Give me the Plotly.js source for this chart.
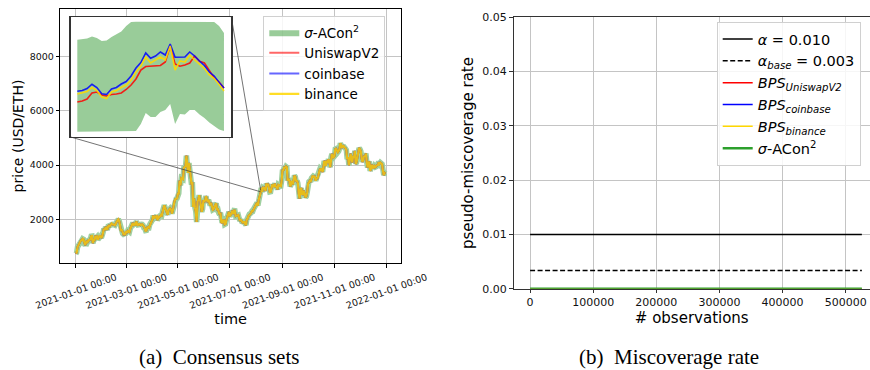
<!DOCTYPE html>
<html><head><meta charset="utf-8">
<script src="https://cdn.plot.ly/plotly-3.0.1.min.js"></script>
<style>html,body{margin:0;padding:0;background:#fff;} #chart{width:870px;height:370px;}</style>
</head><body><div id="chart"></div>
<script>
// ---------- data ----------
const priceStart = '2021-01-01';            // daily series start
const ethPrice = [
 730,775,979,1041,1100,1208,1225,1224,1281,1262,1090,1044,1130,1218,1171,1233,1230,1257,1377,1382,1121,1236,1233,1392,1324,1357,1253,1332,1382,1376,1314,
 1369,1515,1660,1594,1718,1677,1614,1746,1768,1744,1783,1843,1813,1808,1779,1781,1848,1937,1960,2000,1935,1781,1570,1626,1475,1446,1459,1416,
 1564,1492,1575,1541,1533,1654,1723,1834,1868,1799,1826,1772,1924,1854,1791,1806,1823,1782,1817,1812,1784,1680,1669,1582,1588,1699,1716,1691,1819,1846,1919,
 1977,2143,2028,2093,2107,2118,1971,2088,2072,2135,2158,2139,2299,2435,2519,2431,2344,2237,2166,2330,2364,2403,2363,2211,2317,2534,2663,2746,2757,2773,
 2945,2952,3431,3253,3522,3490,3484,3903,3928,3952,4350,4000,3715,4079,3640,3586,3282,3374,2460,2772,2430,2296,1900,2643,2706,2888,2736,2419,2279,2386,2707,
 2634,2706,2855,2689,2630,2715,2590,2517,2609,2471,2353,2372,2508,2537,2591,2369,2373,2231,2178,2245,1889,1875,1970,1990,1812,1829,1978,2083,2166,2276,
 2109,2150,2226,2322,2197,2322,2317,2117,2147,2139,2155,2032,1940,1995,1917,1880,1897,1895,1820,1786,1995,2025,2124,2188,2190,2232,2300,2300,2381,2462,2540,
 2557,2609,2507,2725,2827,2950,3158,3013,3163,3141,3164,3049,3322,3265,3310,3148,3011,3018,3181,3288,3224,3242,3320,3173,3228,3100,3270,3244,3225,3227,3433,
 3834,3790,3940,3887,3952,3927,3430,3497,3427,3212,3270,3410,3286,3429,3615,3571,3398,3432,3329,2958,2764,3077,3155,2931,2925,3062,2934,2806,2850,3001,
 3307,3391,3418,3380,3518,3580,3587,3563,3575,3426,3545,3492,3606,3788,3865,3830,3848,3748,3877,4155,4057,3971,4169,4087,4217,4131,3923,4287,4415,4324,4288,
 4324,4589,4605,4537,4477,4518,4612,4807,4732,4636,4731,4668,4649,4626,4557,4216,4288,3995,4303,4422,4277,4090,4340,4271,4524,4045,4098,4294,4445,4631,
 4587,4512,4229,4119,4198,4346,4310,4430,4112,3908,4081,4131,3784,3863,4018,3962,3877,3961,3924,3939,4020,3978,4109,4048,4093,4067,4038,3799,3628,3713,3683
];
const dateTickVals = ['2021-01-01','2021-03-01','2021-05-01','2021-07-01','2021-09-01','2021-11-01','2022-01-01'];
const dateTickText = ['2021-01-01 00:00','2021-03-01 00:00','2021-05-01 00:00','2021-07-01 00:00','2021-09-01 00:00','2021-11-01 00:00','2022-01-01 00:00'];
const priceTicks = [2000, 4000, 6000, 8000];

// inset (zoomed window starting at insetStart, x in minutes)
const insetStart = '2021-08-06 07:00';
const insetMinutes = [0,2,4,6,8,10,12,14,16,18,20,22,24,26,28,30,32,34,36,38,40,42,44,46,48,50,52,54,56,58,60];
const insetUniswap = [3029.2,3029.6,3030.4,3032.8,3033.2,3032.0,3031.6,3032.2,3032.4,3032.8,3034.2,3036.0,3038.4,3042.0,3043.4,3043.6,3043.6,3043.8,3045.2,3051.6,3044.4,3043.5,3044.0,3044.8,3047.6,3045.5,3044.8,3042.0,3038.8,3037.2,3034.8];
const insetCoinbase = [3033.5,3033.8,3034.6,3036.3,3035.0,3032.5,3032.2,3034.4,3035.0,3036.4,3037.4,3039.6,3042.8,3045.0,3048.8,3046.7,3047.6,3049.2,3048.0,3052.4,3047.1,3047.2,3047.2,3049.2,3047.6,3045.6,3043.8,3041.2,3039.6,3037.0,3034.8];
const insetBinance = [3032.4,3032.8,3033.4,3035.0,3033.8,3031.2,3030.6,3033.2,3033.8,3035.0,3036.0,3038.0,3041.2,3043.6,3047.2,3044.8,3046.0,3047.2,3046.0,3051.6,3042.0,3045.6,3045.2,3048.0,3046.0,3044.4,3042.6,3040.0,3038.6,3036.2,3033.6];
const insetBandHigh = [3054.1,3054.4,3054.6,3055.4,3054.8,3053.6,3053.8,3055.2,3056.4,3057.4,3059.6,3061.2,3061.3,3061.3,3061.3,3061.3,3061.3,3061.3,3061.3,3061.3,3061.3,3061.3,3061.3,3061.3,3061.3,3061.3,3061.3,3061.3,3061.2,3059.6,3056.8];
const insetBandLow = [3017.3,3017.3,3017.3,3017.3,3017.3,3017.3,3017.3,3017.3,3017.3,3017.3,3017.3,3017.3,3017.6,3020.4,3024.8,3023.2,3023.2,3025.2,3026.0,3028.4,3020.4,3024.4,3024.2,3026.0,3026.0,3024.2,3022.8,3021.0,3019.6,3018.2,3017.6];

// miscoverage panel
const obsX = [0, 525600];
const alphaLevel = [0.010, 0.010];
const alphaBase = [0.00333, 0.00333];
const bpsUniswap = [0, 0];
const bpsCoinbase = [0, 0];
const bpsBinance = [0, 0];
const aconRate = [0, 0];

// ---------- layout geometry ----------
const W = 870, H = 370;
const mainXRange = ['2020-12-13 18:00', '2022-01-18 06:00'];
const mainYRange = [388, 9760];
const mainXDom = [60.3/W, 401/W];
const mainYDom = [1-263/H, 1-9/H];
const insetXRange = [-2.7, 63.0];
const insetYRange = [3015.2, 3063.2];
const insetXDom = [70.7/W, 231.3/W];
const insetYDom = [1-137/H, 1-17/H];

const FONT = 'DejaVu Sans';
const ms = s => Date.parse(s.replace(' ', 'T') + ':00Z');
function toPaperX(dateMs) {
  const a = ms(mainXRange[0]), b = ms(mainXRange[1]);
  return mainXDom[0] + (dateMs - a) / (b - a) * (mainXDom[1] - mainXDom[0]);
}
function toPaperY(v) {
  return mainYDom[0] + (v - mainYRange[0]) / (mainYRange[1] - mainYRange[0]) * (mainYDom[1] - mainYDom[0]);
}
const zoomX0 = toPaperX(ms(insetStart) + insetXRange[0]*60000);
const zoomX1 = toPaperX(ms(insetStart) + insetXRange[1]*60000);
const zoomY0 = toPaperY(insetYRange[0]);
const zoomY1 = toPaperY(insetYRange[1]);

const DAY = 86400000;
const traces = [
  // inset band (its legend entry is the panel-(a) band legend)
  {x: insetMinutes, y: insetBandLow, xaxis: 'x3', yaxis: 'y3', mode: 'lines', line: {width: 0, color: 'rgba(0,128,0,0)'}, showlegend: false, hoverinfo: 'skip'},
  {x: insetMinutes, y: insetBandHigh, xaxis: 'x3', yaxis: 'y3', mode: 'lines', fill: 'tonexty', fillcolor: 'rgba(0,128,0,0.4)', line: {width: 0, color: 'rgba(0,128,0,0.4)'}, name: '<i>σ</i>-ACon<sup>2</sup>', legend: 'legend'},
  // main panel
  {x0: priceStart, dx: DAY, y: ethPrice, mode: 'lines', line: {color: 'rgb(160,208,160)', width: 5.5}, showlegend: false, hoverinfo: 'skip'},
  {x0: priceStart, dx: DAY, y: ethPrice, mode: 'lines', line: {color: 'rgba(255,0,0,0.6)', width: 2}, name: 'UniswapV2', legend: 'legend'},
  {x0: priceStart, dx: DAY, y: ethPrice, mode: 'lines', line: {color: 'rgba(0,0,255,0.6)', width: 2}, name: 'coinbase', legend: 'legend'},
  {x0: priceStart, dx: DAY, y: ethPrice, mode: 'lines', line: {color: 'rgba(255,215,0,0.85)', width: 2.2}, name: 'binance', legend: 'legend'},
  // inset lines
  {x: insetMinutes, y: insetUniswap, xaxis: 'x3', yaxis: 'y3', mode: 'lines', line: {color: 'rgba(255,0,0,0.85)', width: 1.6}, showlegend: false},
  {x: insetMinutes, y: insetCoinbase, xaxis: 'x3', yaxis: 'y3', mode: 'lines', line: {color: 'rgba(0,0,255,0.85)', width: 1.6}, showlegend: false},
  {x: insetMinutes, y: insetBinance, xaxis: 'x3', yaxis: 'y3', mode: 'lines', line: {color: 'rgba(255,215,0,0.9)', width: 1.6}, showlegend: false},
  // miscoverage panel
  {x: obsX, y: alphaLevel, xaxis: 'x2', yaxis: 'y2', mode: 'lines', line: {color: '#000', width: 1.5}, name: '<i>α</i> = 0.010', legend: 'legend2'},
  {x: obsX, y: alphaBase, xaxis: 'x2', yaxis: 'y2', mode: 'lines', line: {color: '#000', width: 1.5, dash: '5px,2.5px'}, name: '<i>α<sub>base</sub></i> = 0.003', legend: 'legend2'},
  {x: obsX, y: bpsUniswap, xaxis: 'x2', yaxis: 'y2', mode: 'lines', line: {color: '#ff0000', width: 1.5}, name: '<i>BPS<sub>UniswapV2</sub></i>', legend: 'legend2'},
  {x: obsX, y: bpsCoinbase, xaxis: 'x2', yaxis: 'y2', mode: 'lines', line: {color: '#0000ff', width: 1.5}, name: '<i>BPS<sub>coinbase</sub></i>', legend: 'legend2'},
  {x: obsX, y: bpsBinance, xaxis: 'x2', yaxis: 'y2', mode: 'lines', line: {color: '#ffd700', width: 1.5}, name: '<i>BPS<sub>binance</sub></i>', legend: 'legend2'},
  {x: obsX, y: aconRate, xaxis: 'x2', yaxis: 'y2', mode: 'lines', line: {color: '#2ca02c', width: 2.5}, name: '<i>σ</i>-ACon<sup>2</sup>', legend: 'legend2'}
];

const gridColor = '#c4c4c4';
const tickFontL = {family: FONT, size: 9.5, color: '#111'};
const tickFontR = {family: FONT, size: 11, color: '#111'};

const layout = {
  width: W, height: H,
  margin: {l: 0, r: 0, t: 0, b: 0, autoexpand: false},
  paper_bgcolor: '#fff', plot_bgcolor: '#fff',
  font: {family: FONT, color: '#000'},
  xaxis: {
    type: 'date', domain: mainXDom, range: mainXRange, anchor: 'y',
    tickvals: dateTickVals, ticktext: dateTickText, tickangle: -20, ticklabelshift: 40, ticklabelstandoff: 1,
    tickfont: tickFontL, ticks: 'outside', ticklen: 3.5, tickcolor: '#000', tickwidth: 1,
    showgrid: true, gridcolor: gridColor, gridwidth: 1, zeroline: false,
    showline: true, mirror: true, linecolor: '#000', linewidth: 1,
    automargin: true, title: {text: 'time', font: {family: FONT, size: 14.5, color: '#000'}, standoff: 1}
  },
  yaxis: {
    domain: mainYDom, range: mainYRange, anchor: 'x',
    tickvals: priceTicks, tickformat: 'd', tickfont: tickFontL,
    ticks: 'outside', ticklen: 3.5, tickcolor: '#000', tickwidth: 1,
    showgrid: true, gridcolor: gridColor, gridwidth: 1, zeroline: false,
    showline: true, mirror: true, linecolor: '#000', linewidth: 1,
    automargin: true, title: {text: 'price (USD/ETH)', font: {family: FONT, size: 14, color: '#000'}, standoff: 2}
  },
  xaxis3: {domain: insetXDom, range: insetXRange, anchor: 'y3', showticklabels: false, ticks: '', showgrid: false, zeroline: false, showline: true, mirror: true, linecolor: '#333', linewidth: 1.3},
  yaxis3: {domain: insetYDom, range: insetYRange, anchor: 'x3', showticklabels: false, ticks: '', showgrid: false, zeroline: false, showline: true, mirror: true, linecolor: '#333', linewidth: 1.3},
  xaxis2: {
    domain: [513.5/W, 1], range: [-26280, 538500], anchor: 'y2',
    tickvals: [0,100000,200000,300000,400000,500000], tickformat: 'd', tickfont: tickFontR,
    ticks: 'outside', ticklen: 3.5, tickcolor: '#333', tickwidth: 1,
    showgrid: true, gridcolor: gridColor, gridwidth: 1, zeroline: false,
    showline: true, mirror: true, linecolor: '#333', linewidth: 1,
    automargin: true, title: {text: '# observations', font: {family: FONT, size: 15, color: '#000'}, standoff: 2}
  },
  yaxis2: {
    domain: [1-288.7/H, 1-17.3/H], range: [0, 0.05], anchor: 'x2',
    tickvals: [0,0.01,0.02,0.03,0.04,0.05], tickformat: '.2f', tickfont: tickFontR,
    ticks: 'outside', ticklen: 3.5, tickcolor: '#333', tickwidth: 1,
    showgrid: true, gridcolor: gridColor, gridwidth: 1, zeroline: false,
    showline: true, mirror: false, linecolor: '#333', linewidth: 1,
    automargin: true, title: {text: 'pseudo-miscoverage rate', font: {family: FONT, size: 15, color: '#000'}, standoff: 5}
  },
  legend: {
    x: 263.3/W, y: 1-16/H, xanchor: 'left', yanchor: 'top', traceorder: 'normal',
    bgcolor: 'rgba(255,255,255,0.85)', bordercolor: '#d0d0d0', borderwidth: 1,
    font: {family: FONT, size: 13.5, color: '#000'}, tracegroupgap: 0
  },
  legend2: {
    x: 716.7/W, y: 1-22/H, xanchor: 'left', yanchor: 'top', traceorder: 'normal',
    bgcolor: 'rgba(255,255,255,0.85)', bordercolor: '#d0d0d0', borderwidth: 1,
    font: {family: FONT, size: 14.5, color: '#000'}, tracegroupgap: 0
  },
  shapes: [
    {type: 'line', xref: 'paper', yref: 'paper', x0: insetXDom[0], y0: insetYDom[0], x1: zoomX0, y1: zoomY0, line: {color: 'rgba(60,60,60,0.8)', width: 0.9}},
    {type: 'line', xref: 'paper', yref: 'paper', x0: insetXDom[1], y0: insetYDom[1], x1: zoomX1, y1: zoomY1, line: {color: 'rgba(60,60,60,0.8)', width: 0.9}}
  ],
  annotations: [
    {text: '(a)\u00a0\u00a0Consensus sets', xref: 'paper', yref: 'paper', x: 219/W, y: 1-357/H, xanchor: 'center', yanchor: 'middle', showarrow: false, font: {family: 'Liberation Serif', size: 21, color: '#000'}},
    {text: '(b)\u00a0\u00a0Miscoverage rate', xref: 'paper', yref: 'paper', x: 669/W, y: 1-357/H, xanchor: 'center', yanchor: 'middle', showarrow: false, font: {family: 'Liberation Serif', size: 21, color: '#000'}}
  ]
};

Plotly.newPlot('chart', traces, layout, {staticPlot: true, displayModeBar: false});
</script>
</body></html>
